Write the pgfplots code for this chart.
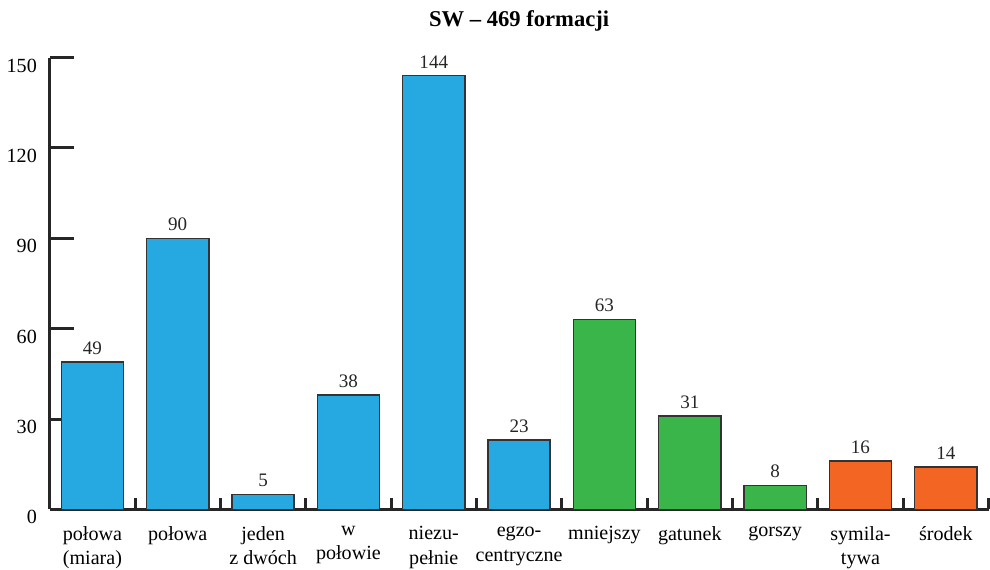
\documentclass[border=0pt]{standalone}
\usepackage{fontspec}
\setmainfont{Liberation Serif}
\usepackage{pgfplots}
\pgfplotsset{compat=1.18}
\definecolor{cblue}{HTML}{25A9E0}
\definecolor{cgreen}{HTML}{3AB54A}
\definecolor{corange}{HTML}{F26522}
\begin{document}
\fontsize{20}{23}\selectfont
\begin{tikzpicture}
\begin{axis}[
  scale only axis, width=935pt, height=450pt,
  xmin=-0.5, xmax=10.5, ymin=0, ymax=150,
  axis x line*=bottom, axis y line*=left,
  ybar, bar width=62pt, bar shift=0pt,
  ytick={0,30,...,150},
  xtick={0,...,10},
  xticklabels={{połowa\\(miara)},{połowa},{jeden\\z dwóch},{w\\połowie},{niezu-\\pełnie},{egzo-\\centryczne},{mniejszy},{gatunek},{gorszy},{symila-\\tywa},{środek}},
  xticklabel style={align=center, font=\fontsize{20}{24}\selectfont, anchor=north, inner sep=0pt, yshift=-17pt},
  yticklabel style={font=\fontsize{20}{23}\selectfont, yshift=-8pt, xshift=-6pt},
  minor xtick={0.5,1.5,...,10.5},
  major tick length=24pt, minor tick length=11pt,
  tick align=inside,
  major x tick style={draw=none},
  axis line style={line width=3pt, black!85},
  every tick/.style={line width=3pt, black!85},
  minor x tick style={line width=3pt, black!85},
  major y tick style={line width=3pt, black!85},
  /pgf/number format/assume math mode=true,
  nodes near coords,
  nodes near coords style={font=\fontsize{19}{22}\selectfont, black!85},
  title={\textbf{SW – 469 formacji}},
  title style={font=\fontsize{22.5}{26}\selectfont, inner ysep=11pt, yshift=8.5pt},
]
\addplot[fill=cblue, draw=black!80, line width=1.5pt] coordinates {(0,49) (1,90) (2,5) (3,38) (4,144) (5,23)};
\addplot[fill=cgreen, draw=black!80, line width=1.5pt] coordinates {(6,63) (7,31) (8,8)};
\addplot[fill=corange, draw=black!80, line width=1.5pt] coordinates {(9,16) (10,14)};
\end{axis}
\end{tikzpicture}
\end{document}
